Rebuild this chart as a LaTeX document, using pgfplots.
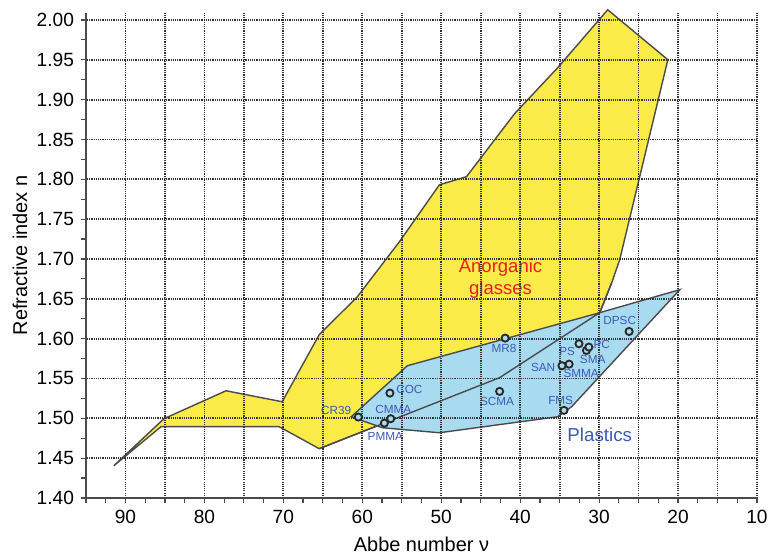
\documentclass[border=0pt]{standalone}
\usepackage{fontspec}
\setmainfont{Liberation Sans}
\usepackage{pgfplots}
\pgfplotsset{compat=1.18}
\definecolor{glassY}{RGB}{250,235,72}
\definecolor{plasB}{RGB}{168,218,240}
\definecolor{edgeC}{RGB}{75,75,75}
\definecolor{lblB}{RGB}{60,90,180}
\definecolor{lblR}{RGB}{235,30,30}
\begin{document}
\begin{tikzpicture}
\begin{axis}[name=ax,
  scale only axis, width=335.5bp, height=242.6bp,
  xmin=10, xmax=95, ymin=1.4, ymax=2.009,
  x dir=reverse,
  axis x line*=bottom, axis y line*=left,
  axis line style={edgeC, line width=1bp, -},
  xtick={10,15,20,25,30,35,40,45,50,55,60,65,70,75,80,85,90,95},
  xticklabels={10,,20,,30,,40,,50,,60,,70,,80,,90,},
  minor xtick={12.5,17.5,22.5,27.5,32.5,37.5,42.5,47.5,52.5,57.5,62.5,67.5,72.5,77.5,82.5,87.5,92.5},
  ytick={1.40,1.45,1.50,1.55,1.60,1.65,1.70,1.75,1.80,1.85,1.90,1.95,2.00},
  minor ytick={1.425,1.475,1.525,1.575,1.625,1.675,1.725,1.775,1.825,1.875,1.925,1.975},
  yticklabel style={/pgf/number format/.cd, fixed, fixed zerofill, precision=2},
  /pgf/number format/assume math mode=true,
  tick align=outside, major tick length=2.5bp, minor tick length=2.5bp,
  tick style={edgeC, line width=0.6bp},
  grid=major, major grid style={black!80, dash pattern=on 0.55bp off 0.55bp, line width=0.9bp},
  tick label style={font=\fontsize{9.6}{10}\selectfont},
  label style={font=\fontsize{8.1}{10}\selectfont},
  every axis x label/.style={at={(axis description cs:0.5,0)}, yshift=-23bp, anchor=center},
  every axis y label/.style={at={(axis description cs:0,0.5)}, xshift=-33bp, rotate=90, anchor=center},
  xlabel={Abbe number ν}, ylabel={Refractive index n},
  clip=false, axis on top,
]
% Anorganic glasses
\addplot[fill=glassY, draw=edgeC, line width=0.7bp] coordinates {
 (91.47,1.4405) (85.13,1.4995) (77.26,1.5346) (70.15,1.5208) (65.46,1.6049)
 (60.63,1.6526) (55.30,1.7216) (50.23,1.7931) (46.80,1.8033) (40.71,1.8823)
 (35.25,1.9400) (28.91,2.0128) (21.29,1.9501) (27.39,1.6991) (28.40,1.6702)
 (29.92,1.6326) (42.61,1.5510) (65.46,1.4619) (70.53,1.4895) (85.5,1.4895)
} -- cycle;
% Plastics
\addplot[fill=plasB, draw=edgeC, line width=0.7bp] coordinates {
 (61.40,1.5020) (54.29,1.5660) (29.92,1.6326) (19.77,1.6615) (33.48,1.5146)
 (35.25,1.5020) (50.23,1.4819) (57.46,1.4882)
} -- cycle;
% glasses outline through plastics
\addplot[draw=edgeC, line width=0.7bp] coordinates {
 (28.40,1.6702) (29.92,1.6326) (42.61,1.5510) (65.46,1.4619)
};
% materials
\addplot[only marks, mark=*, mark size=1.8bp, mark options={line width=0.9bp, draw=black!85, fill=plasB}] coordinates {
 (60.5,1.5016) (56.5,1.5317) (56.4,1.4995) (57.2,1.494) (42.6,1.5338) (41.9,1.6007)
 (34.45,1.510) (34.7,1.566) (33.8,1.568) (32.55,1.5936) (31.6,1.5852) (31.3,1.5894) (26.2,1.609)
};
\begin{scope}[every node/.style={lblB, font=\fontsize{5.9}{6}\selectfont, inner sep=0pt}]
\node at (axis cs:63.3,1.5095) {CR39};
\node at (axis cs:54.04,1.5365) {COC};
\node at (axis cs:56.07,1.5108) {CMMA};
\node at (axis cs:57.08,1.4775) {PMMA};
\node at (axis cs:42.93,1.5215) {SCMA};
\node at (axis cs:42.04,1.588) {MR8};
\node at (axis cs:27.39,1.6225) {DPSC};
\node at (axis cs:29.67,1.593) {PC};
\node at (axis cs:34.05,1.5842) {PS};
\node at (axis cs:30.81,1.5742) {SMA};
\node at (axis cs:37.09,1.5641) {SAN};
\node at (axis cs:32.27,1.5566) {SMMA};
\node at (axis cs:34.87,1.5227) {FMS};
\end{scope}
\node[lblR, font=\fontsize{9.3}{11}\selectfont, align=center] at (axis cs:42.49,1.6758) {Anorganic\\glasses};
\node[lblB, font=\fontsize{9.4}{11}\selectfont] at (axis cs:29.92,1.4795) {Plastics};
\end{axis}
\pgfresetboundingbox
\path[use as bounding box] ([xshift=-43bp,yshift=-28.5bp]ax.south west) rectangle ([xshift=341.5bp,yshift=249bp]ax.south west);
\end{tikzpicture}
\end{document}
